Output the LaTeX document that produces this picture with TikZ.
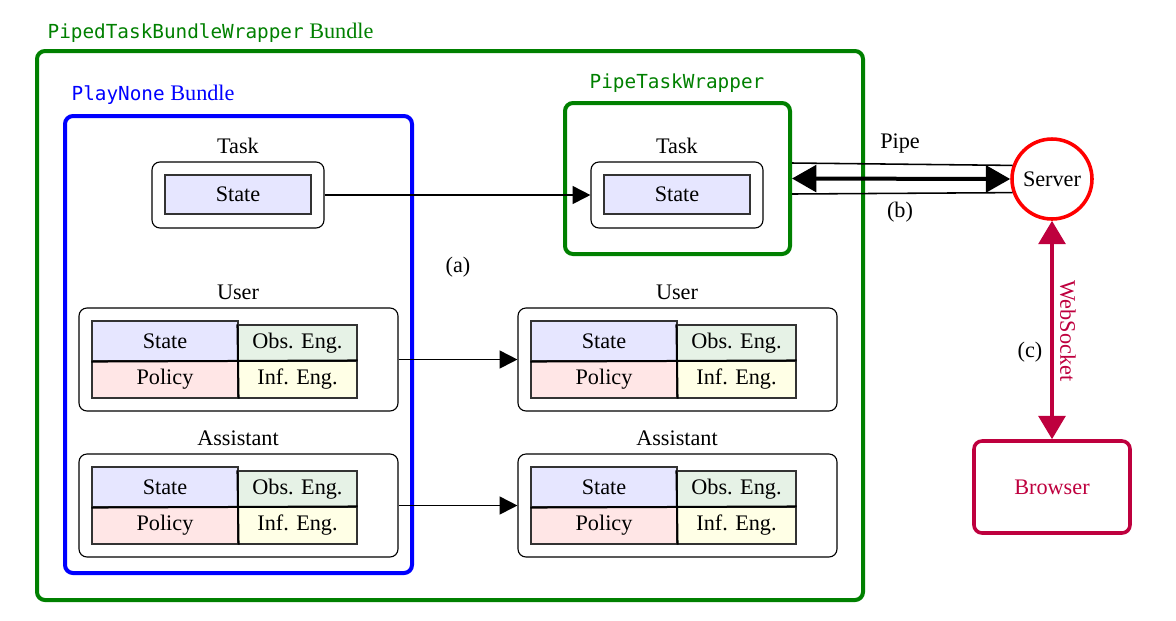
\documentclass[tikz,border=0pt]{standalone}
\usepackage{fontspec}
\setmainfont{Liberation Serif}
\setmonofont[Scale=0.87]{DejaVu Sans Mono}
\usetikzlibrary{arrows.meta,calc}
\newcommand\pxu{0.45pt}
\definecolor{wrapgreen}{RGB}{0,128,0}
\definecolor{browsercol}{RGB}{190,0,62}
\definecolor{statefill}{RGB}{230,230,255}
\definecolor{obsfill}{RGB}{230,242,230}
\definecolor{polfill}{RGB}{255,230,230}
\definecolor{inffill}{RGB}{255,255,230}
\tikzset{
  frame/.style={draw, rounded corners=3.6pt, line width=1.8pt, inner sep=0pt},
  comp/.style={draw, rounded corners=3.6pt, line width=0.5pt, inner sep=0pt},
  cell/.style={draw=black!80, line width=0.5pt, inner sep=0pt},
  lbl/.style={inner sep=1pt},
  flow/.style={line width=0.8pt, -{Triangle[length=8pt,width=8pt]}},
  pipearr/.style={line width=1.8pt, {Triangle[length=11pt,width=12pt]}-{Triangle[length=11pt,width=12pt]}},
  wsarr/.style={line width=1.8pt, draw=browsercol, {Triangle[length=10.5pt,width=12pt]}-{Triangle[length=10.5pt,width=12pt]}, fill=browsercol},
}
\begin{document}
\begin{tikzpicture}[x=0.45pt,y=-0.45pt]
\useasboundingbox (0,0) rectangle (1176,620);
% frames
\node[frame, draw=wrapgreen, minimum width=826*\pxu, minimum height=549*\pxu] (outer) at (450,325.5) {};
\node[lbl, anchor=west, text=wrapgreen] (outerlbl) at (45,33) {\texttt{PipedTaskBundleWrapper} Bundle};
\node[frame, draw=blue, minimum width=347*\pxu, minimum height=457*\pxu] (play) at (238.5,344.5) {};
\node[lbl, anchor=west, text=blue] (playlbl) at (69,95) {\texttt{PlayNone} Bundle};
\node[frame, draw=wrapgreen, minimum width=225*\pxu, minimum height=151*\pxu] (pw) at (677.5,178.5) {};
\node[lbl, text=wrapgreen] (pwlbl) at (677,83) {\texttt{PipeTaskWrapper}};
% tasks
\node[lbl] (tllbl) at (238,146) {Task};
\node[comp, minimum width=172*\pxu, minimum height=66*\pxu] (tl) at (238,195) {};
\node[cell, fill=statefill, minimum width=146*\pxu, minimum height=39*\pxu] (tls) at (238,194.5) {State};
\node[lbl] (trlbl) at (677,146) {Task};
\node[comp, minimum width=172*\pxu, minimum height=66*\pxu] (tr) at (677,195) {};
\node[cell, fill=statefill, minimum width=146*\pxu, minimum height=39*\pxu] (trs) at (677,194.5) {State};
% users / assistants
\foreach \nm/\dx/\ttl/\cy in {ul/0/User/0, ur/439/User/0, al/0/Assistant/146, ar/439/Assistant/146}{
  \node[lbl] (\nm lbl) at (238+\dx,292+\cy) {\ttl};
  \node[comp, minimum width=319*\pxu, minimum height=103*\pxu] (\nm) at (238.5+\dx,359.5+\cy) {};
  \node[cell, fill=statefill, minimum width=146*\pxu, minimum height=40*\pxu] (\nm s) at (165+\dx,341+\cy) {State};
  \node[cell, fill=obsfill, minimum width=119*\pxu, minimum height=36*\pxu] (\nm o) at (297.5+\dx,343+\cy) {Obs. Eng.};
  \node[cell, fill=polfill, minimum width=146*\pxu, minimum height=37*\pxu] (\nm p) at (165+\dx,379.5+\cy) {Policy};
  \node[cell, fill=inffill, minimum width=119*\pxu, minimum height=37*\pxu] (\nm i) at (297.5+\dx,379.5+\cy) {Inf. Eng.};
  \draw[line width=0.9pt] (\nm s.south west) -- (\nm i.north east);
  \draw[line width=0.9pt] (\nm o.north west) -- (\nm p.south east);
}
% flows
\draw[flow] (tl.east) -- (tr.west);
\draw[flow] (ul.east) -- (ur.west);
\draw[flow] (al.east) -- (ar.west);
\node[lbl] (alab) at (458,267) {(a)};
% server
\node[circle, draw=red, line width=1.6pt, minimum size=80*\pxu, inner sep=0pt] (srv) at (1052,179) {Server};
\coordinate (p1) at ($(pw.east)+(0,-15.5)$);
\coordinate (p2) at ($(pw.east)+(0,15.5)$);
\draw[line width=0.7pt] (p1) -- (srv.161);
\draw[line width=0.7pt] (p2) -- (srv.199);
\draw[pipearr] (pw.east) -- (srv.west);
\node[lbl] (pipelbl) at (900,143) {Pipe};
\node[lbl] (blbl) at (900,212) {(b)};
% browser
\node[draw=browsercol, rounded corners=3.6pt, line width=1.6pt, minimum width=156*\pxu, minimum height=92*\pxu, text=browsercol, inner sep=0pt] (br) at (1052,487) {Browser};
\draw[wsarr] (srv.south) -- (br.north);
\node[lbl, rotate=-90, text=browsercol] (wslbl) at (1068,331) {WebSocket};
\node[lbl] (clbl) at (1030,352) {(c)};
\end{tikzpicture}
\end{document}
